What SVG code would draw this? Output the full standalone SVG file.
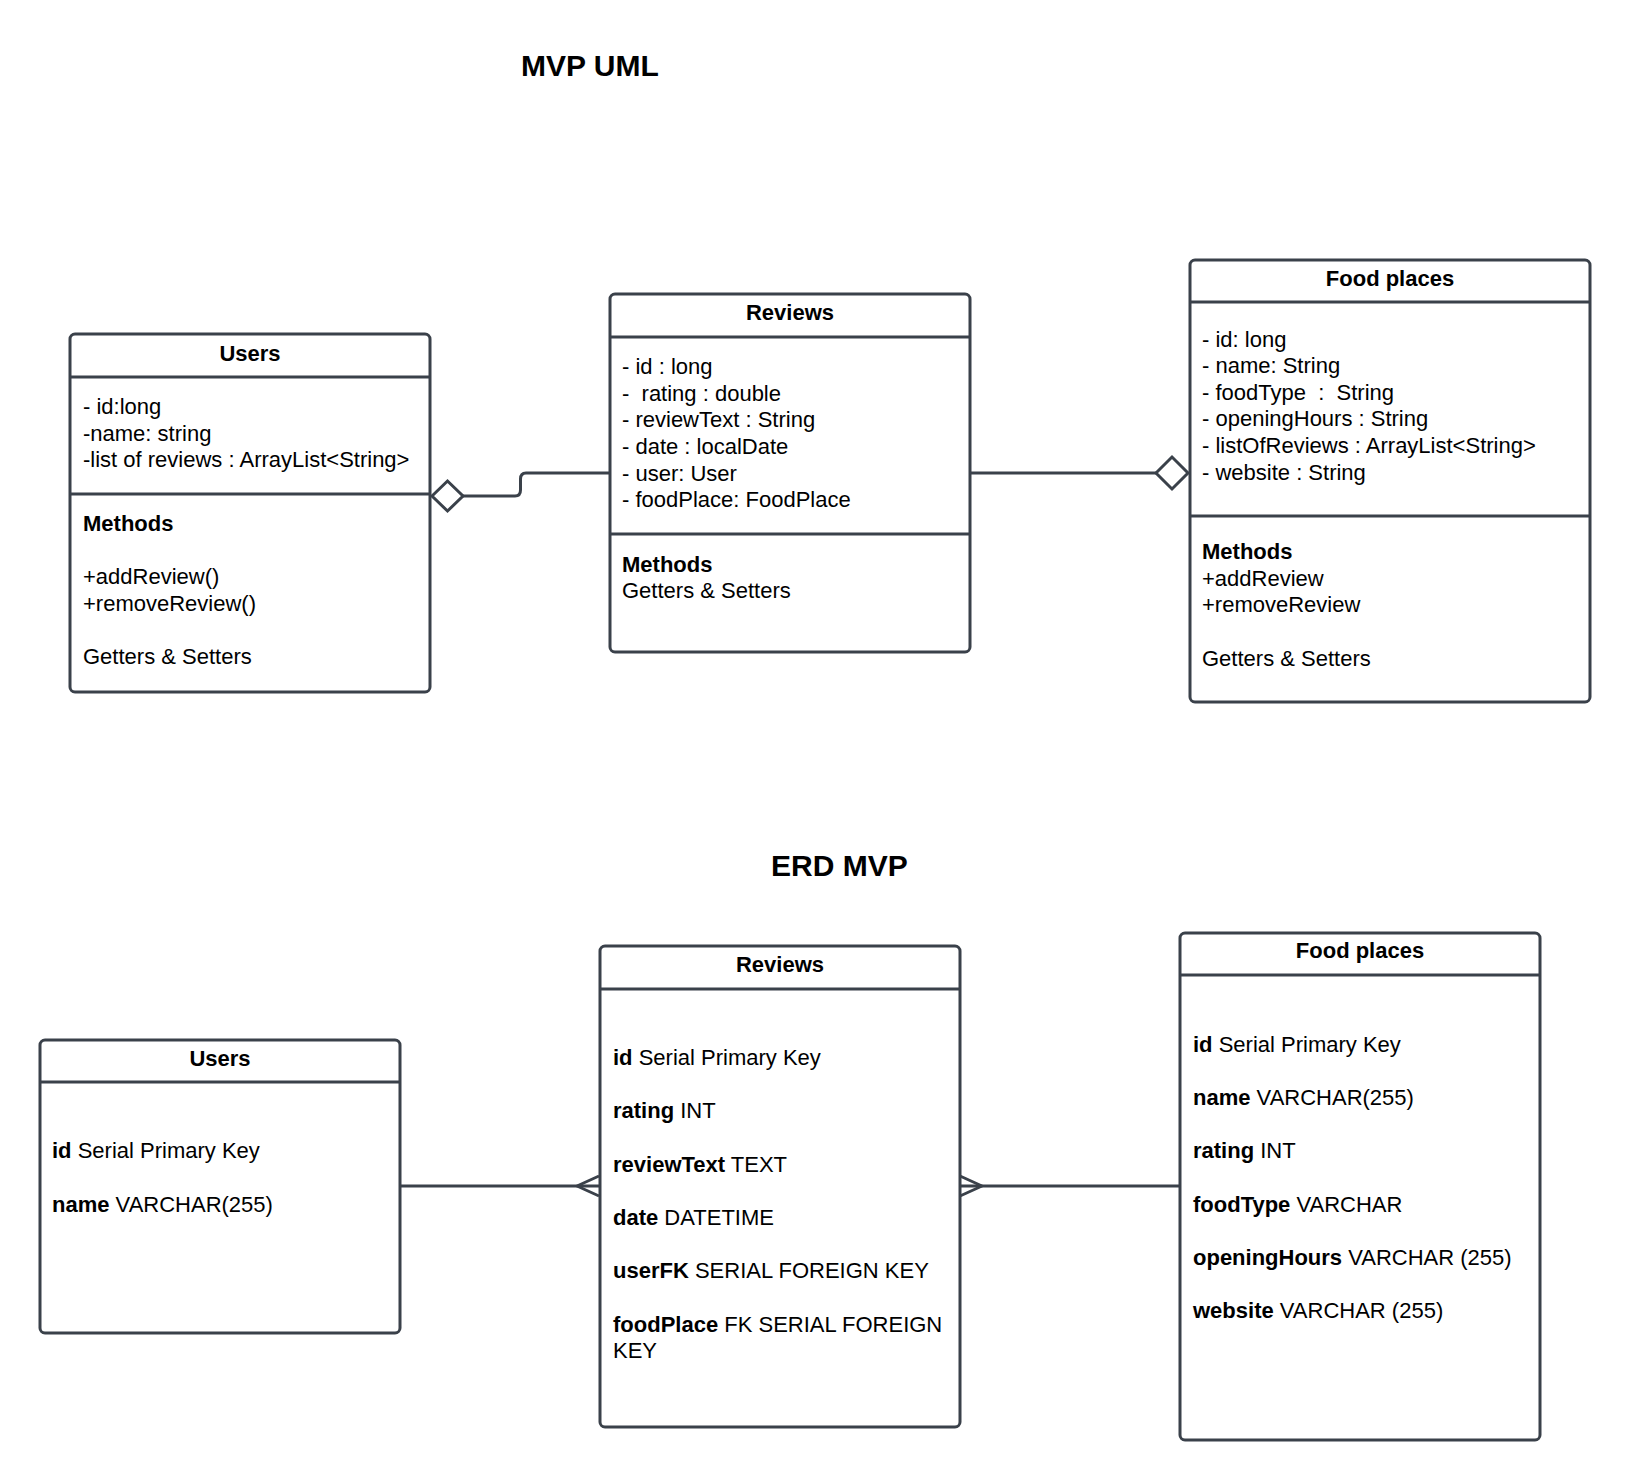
<svg xmlns="http://www.w3.org/2000/svg" width="1630" height="1480" viewBox="0 0 1630 1480">
  <style>
    .box { fill: #ffffff; stroke: #3a414a; stroke-width: 3; }
    .div { stroke: #3a414a; stroke-width: 3; fill: none; }
    .conn { stroke: #3a414a; stroke-width: 3; fill: none; stroke-linejoin: round; }
    .dia { fill: #ffffff; stroke: #3a414a; stroke-width: 3; stroke-linejoin: miter; }
    text { font-family: "Liberation Sans", Arial, sans-serif; font-size: 22px; fill: #000000; white-space: pre; }
    .title { font-weight: bold; text-anchor: middle; }
    .b { font-weight: bold; }
    .heading { font-weight: bold; font-size: 30px; }
  </style>

  <!-- section headings -->
  <text class="heading" x="521" y="76">MVP UML</text>
  <text class="heading" x="771" y="876">ERD MVP</text>

  <!-- connectors -->
  <g id="connectors">
    <!-- UML: Reviews to Users (aggregation) -->
    <path class="conn" d="M 610 473 H 526 Q 520.5 473 520.5 479 V 490 Q 520.5 496 515 496 H 463"/>
    <polygon class="dia" points="432,496 447.5,481 463,496 447.5,511"/>
    <!-- UML: Reviews to Food places (aggregation) -->
    <path class="conn" d="M 970 473 H 1156"/>
    <polygon class="dia" points="1156,473 1172,457 1188,473 1172,489"/>
    <!-- ERD: Users to Reviews (one to many) -->
    <path class="conn" d="M 401 1186 H 599"/>
    <path class="conn" d="M 599 1176 L 577 1186 L 599 1196"/>
    <!-- ERD: Food places to Reviews (one to many) -->
    <path class="conn" d="M 960 1186 H 1179"/>
    <path class="conn" d="M 960 1176 L 982 1186 L 960 1196"/>
  </g>

  <!-- UML classes -->
  <g id="uml-users">
    <rect class="box" x="70" y="334" width="360" height="358" rx="5"/>
    <line class="div" x1="70" y1="377" x2="430" y2="377"/>
    <line class="div" x1="70" y1="494" x2="430" y2="494"/>
    <text class="title" x="250" y="361">Users</text>
    <text x="83" y="414">- id:long</text>
    <text x="83" y="441">-name: string</text>
    <text x="83" y="467">-list of reviews : ArrayList&lt;String&gt;</text>
    <text class="b" x="83" y="531">Methods</text>
    <text x="83" y="584">+addReview()</text>
    <text x="83" y="611">+removeReview()</text>
    <text x="83" y="664">Getters &amp; Setters</text>
  </g>

  <g id="uml-reviews">
    <rect class="box" x="610" y="294" width="360" height="358" rx="5"/>
    <line class="div" x1="610" y1="337" x2="970" y2="337"/>
    <line class="div" x1="610" y1="534" x2="970" y2="534"/>
    <text class="title" x="790" y="320">Reviews</text>
    <text x="622" y="374">- id : long</text>
    <text x="622" y="401">-  rating : double</text>
    <text x="622" y="427">- reviewText : String</text>
    <text x="622" y="454">- date : localDate</text>
    <text x="622" y="481">- user: User</text>
    <text x="622" y="507">- foodPlace: FoodPlace</text>
    <text class="b" x="622" y="572">Methods</text>
    <text x="622" y="598">Getters &amp; Setters</text>
  </g>

  <g id="uml-food-places">
    <rect class="box" x="1190" y="260" width="400" height="442" rx="5"/>
    <line class="div" x1="1190" y1="302" x2="1590" y2="302"/>
    <line class="div" x1="1190" y1="516" x2="1590" y2="516"/>
    <text class="title" x="1390" y="286">Food places</text>
    <text x="1202" y="347">- id: long</text>
    <text x="1202" y="373">- name: String</text>
    <text x="1202" y="400">- foodType  :  String</text>
    <text x="1202" y="426">- openingHours : String</text>
    <text x="1202" y="453">- listOfReviews : ArrayList&lt;String&gt;</text>
    <text x="1202" y="480">- website : String</text>
    <text class="b" x="1202" y="559">Methods</text>
    <text x="1202" y="586">+addReview</text>
    <text x="1202" y="612">+removeReview</text>
    <text x="1202" y="666">Getters &amp; Setters</text>
  </g>

  <!-- ERD entities -->
  <g id="erd-users">
    <rect class="box" x="40" y="1040" width="360" height="293" rx="5"/>
    <line class="div" x1="40" y1="1082" x2="400" y2="1082"/>
    <text class="title" x="220" y="1066">Users</text>
    <text x="52" y="1158"><tspan class="b">id</tspan> Serial Primary Key</text>
    <text x="52" y="1212"><tspan class="b">name</tspan> VARCHAR(255)</text>
  </g>

  <g id="erd-reviews">
    <rect class="box" x="600" y="946" width="360" height="481" rx="5"/>
    <line class="div" x1="600" y1="989" x2="960" y2="989"/>
    <text class="title" x="780" y="972">Reviews</text>
    <text x="613" y="1065"><tspan class="b">id</tspan> Serial Primary Key</text>
    <text x="613" y="1118"><tspan class="b">rating</tspan> INT</text>
    <text x="613" y="1172"><tspan class="b">reviewText</tspan> TEXT</text>
    <text x="613" y="1225"><tspan class="b">date</tspan> DATETIME</text>
    <text x="613" y="1278"><tspan class="b">userFK</tspan> SERIAL FOREIGN KEY</text>
    <text x="613" y="1332"><tspan class="b">foodPlace</tspan> FK SERIAL FOREIGN</text>
    <text x="613" y="1358">KEY</text>
  </g>

  <g id="erd-food-places">
    <rect class="box" x="1180" y="933" width="360" height="507" rx="5"/>
    <line class="div" x1="1180" y1="975" x2="1540" y2="975"/>
    <text class="title" x="1360" y="958">Food places</text>
    <text x="1193" y="1052"><tspan class="b">id</tspan> Serial Primary Key</text>
    <text x="1193" y="1105"><tspan class="b">name</tspan> VARCHAR(255)</text>
    <text x="1193" y="1158"><tspan class="b">rating</tspan> INT</text>
    <text x="1193" y="1212"><tspan class="b">foodType</tspan> VARCHAR</text>
    <text x="1193" y="1265"><tspan class="b">openingHours</tspan> VARCHAR (255)</text>
    <text x="1193" y="1318"><tspan class="b">website</tspan> VARCHAR (255)</text>
  </g>
</svg>
